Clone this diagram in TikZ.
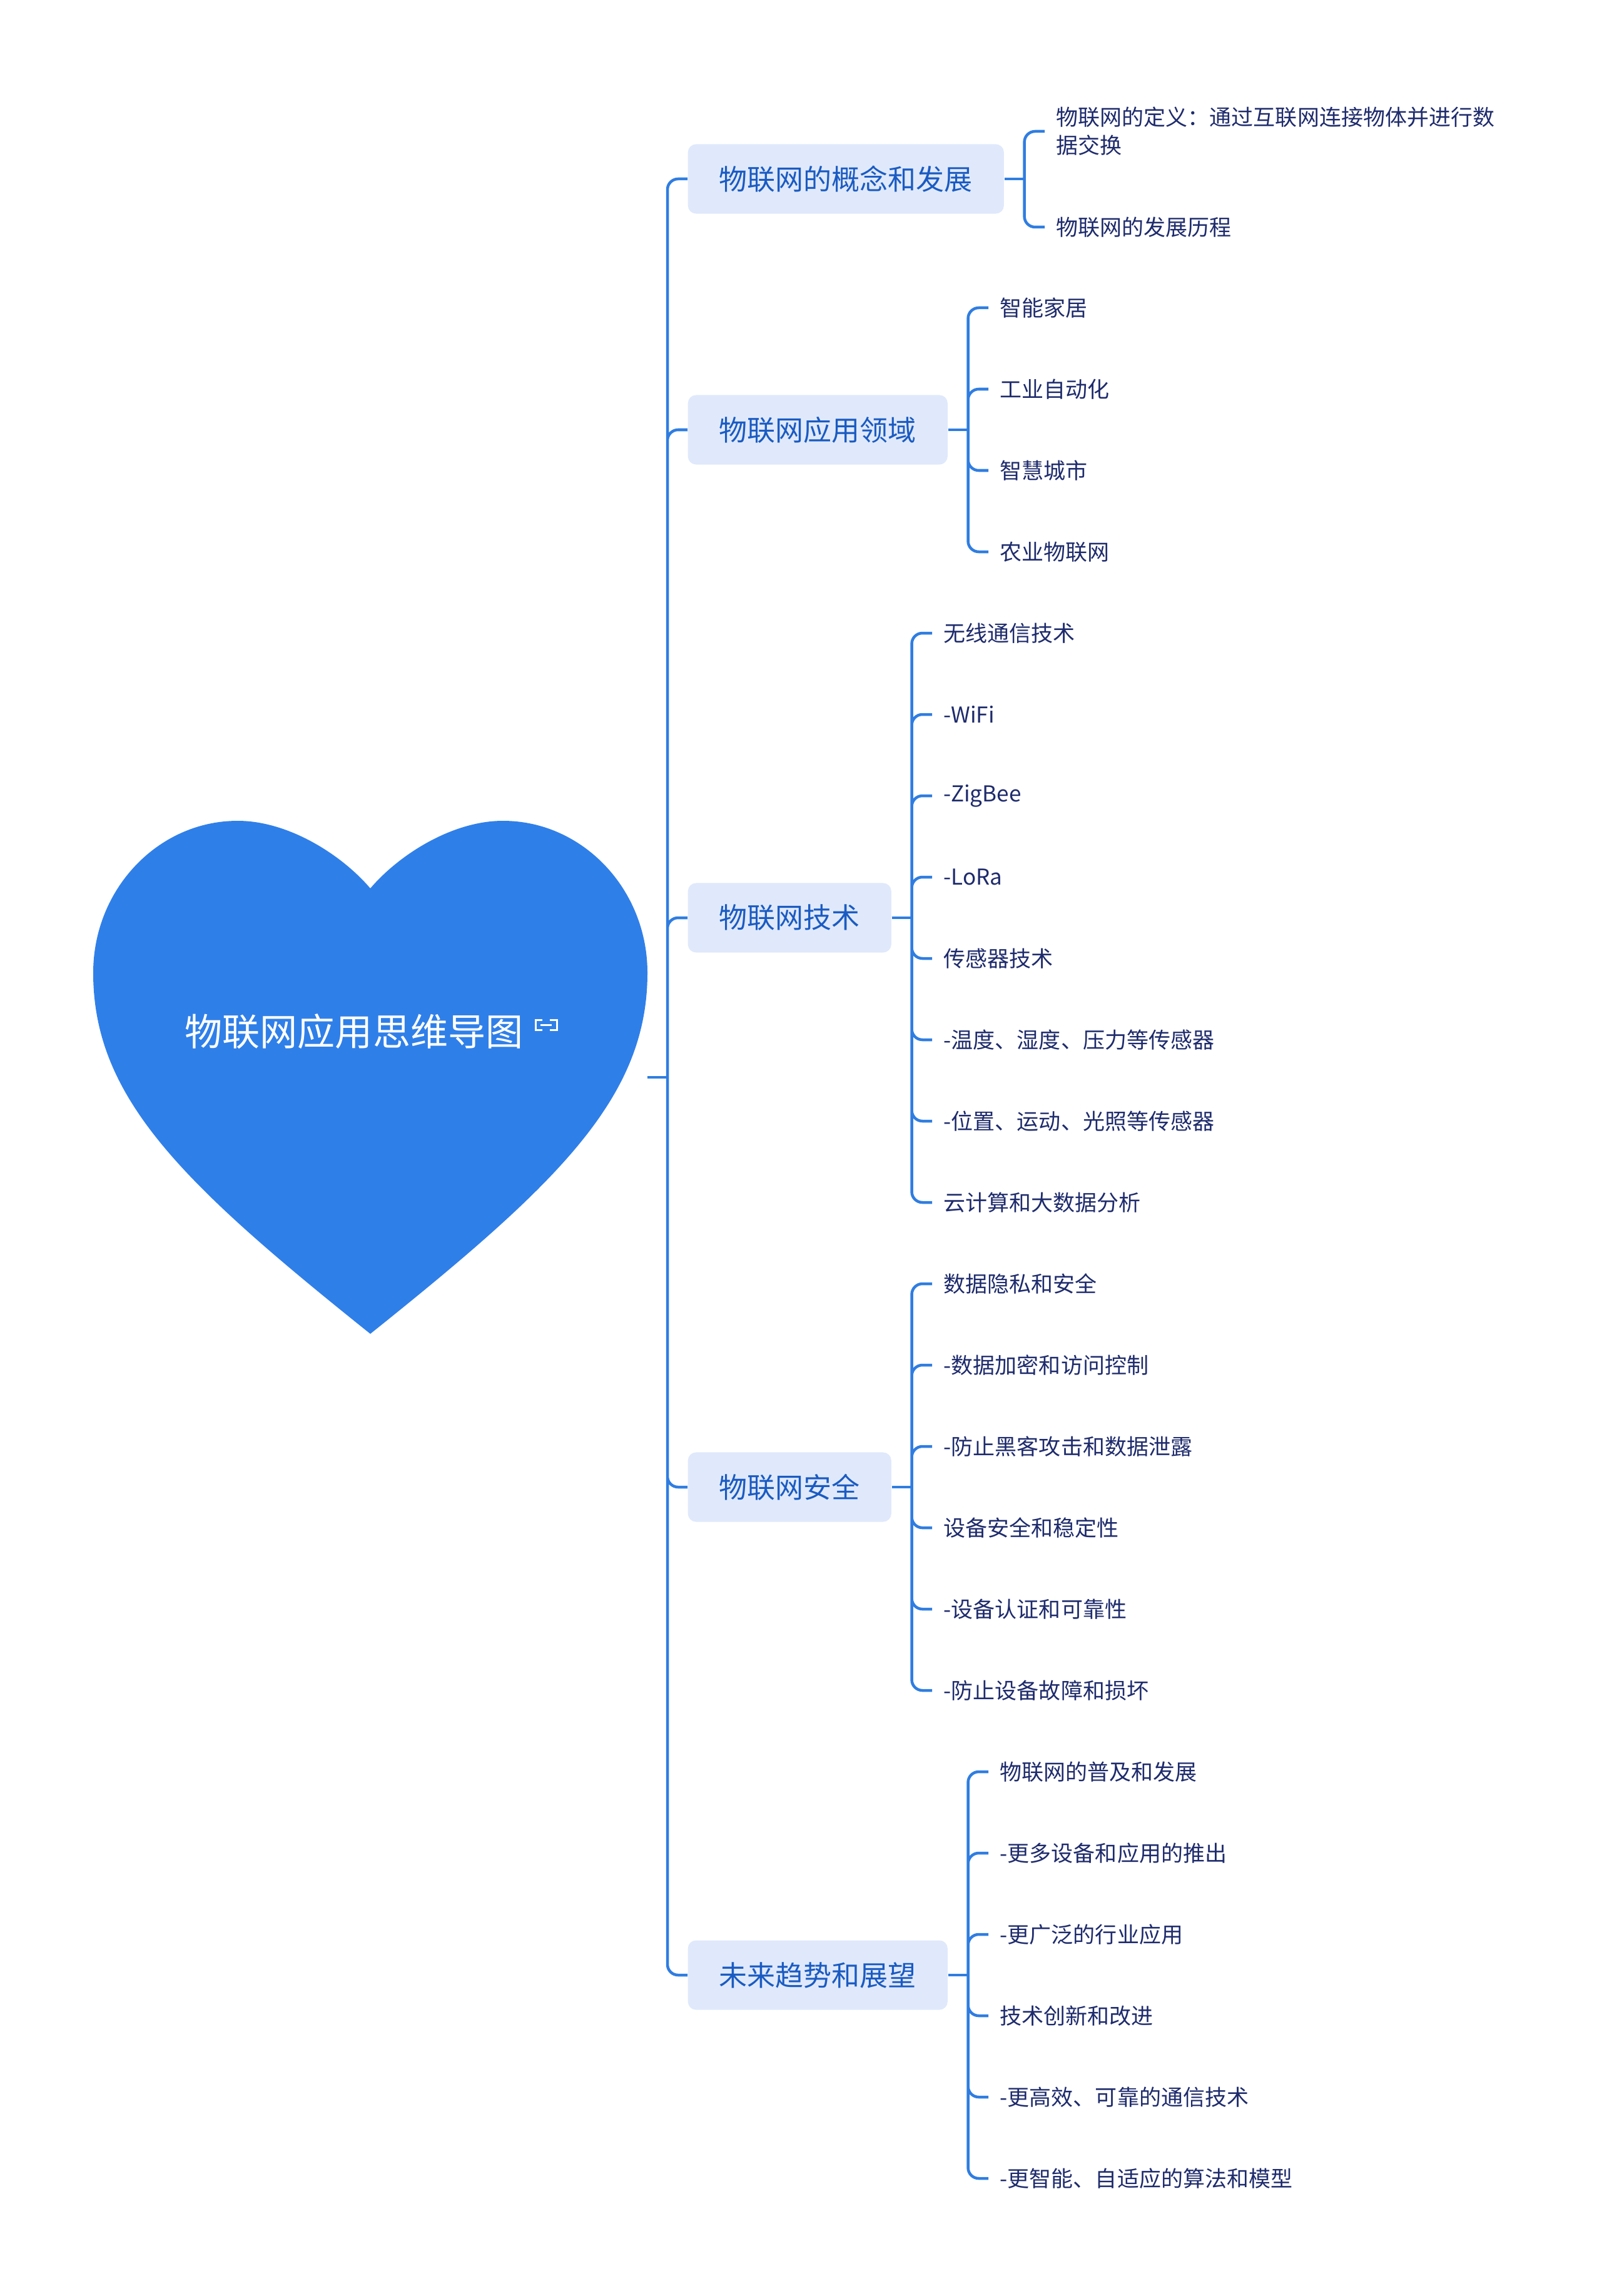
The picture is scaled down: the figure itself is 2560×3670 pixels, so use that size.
\documentclass[tikz,border=0pt]{standalone}
\usepackage{fontspec}
\setmainfont{Noto Sans CJK SC}
\usepackage{xcolor}
\usetikzlibrary{positioning}

\definecolor{heartblue}{HTML}{2F7FE9}
\definecolor{linkblue}{HTML}{2F7DE1}
\definecolor{boxfill}{HTML}{E0E9FB}
\definecolor{branchtext}{HTML}{1A5BC2}
\definecolor{leaftext}{HTML}{1E2B6C}

\begin{document}
\begin{tikzpicture}[
    x=0.01cm, y=-0.01cm,
    title/.style={text=white, inner sep=0, font=\fontsize{17.07pt}{20pt}\selectfont},
    branch/.style={fill=boxfill, text=branchtext, rounded corners=0.13cm, anchor=west, minimum height=1.11cm, inner xsep=0.5cm, font=\fontsize{12.8pt}{15pt}\selectfont},
    leaf/.style={anchor=west, text=leaftext, inner xsep=0.18cm, inner ysep=0pt, align=left, font=\fontsize{9.96pt}{12.8pt}\selectfont},
    link/.style={draw=linkblue, line width=0.045cm, rounded corners=0.17cm},
    iconline/.style={draw=white, line width=0.03cm}
]
    \useasboundingbox (0,0) rectangle (2560,3670);

    % central topic: the heart
    \fill[heartblue] (592,1420) .. controls (545,1365) and (460,1312) .. (380,1312)
        .. controls (253,1312) and (149,1421) .. (149,1555)
        .. controls (149,1755) and (292,1892) .. (592,2132)
        .. controls (892,1892) and (1035,1755) .. (1035,1555)
        .. controls (1035,1421) and (931,1312) .. (804,1312)
        .. controls (724,1312) and (639,1365) .. (592,1420) -- cycle;
    \node[title] (root) at (566,1649) {物联网应用思维导图};
    \draw[iconline, shift={(873,1638)}] (-6,-8) -- (-17,-8) -- (-17,8) -- (-6,8)
        (6,-8) -- (17,-8) -- (17,8) -- (6,8) (-9,0) -- (9,0);
    \coordinate (hroot) at (1035,1722);
    \coordinate (hub) at (1067,1722);

    % main branches
    \node[branch] (concept) at (1099,286) {物联网的概念和发展};
    \node[branch] (apps) at (1099,687) {物联网应用领域};
    \node[branch] (tech) at (1099,1467) {物联网技术};
    \node[branch] (sec) at (1099,2377) {物联网安全};
    \node[branch] (future) at (1099,3157) {未来趋势和展望};

    \coordinate[right=0.32cm of concept] (concepthub);
    \coordinate[right=0.32cm of apps] (appshub);
    \coordinate[right=0.32cm of tech] (techhub);
    \coordinate[right=0.32cm of sec] (sechub);
    \coordinate[right=0.32cm of future] (futurehub);

    % leaves
    \node[leaf] (c1) at (1670,210) {物联网的定义：通过互联网连接物体并进行数\\据交换};
    \node[leaf] (c2) at (1670,363) {物联网的发展历程};

    \node[leaf] (a1) at (1580,492) {智能家居};
    \node[leaf] (a2) at (1580,622) {工业自动化};
    \node[leaf] (a3) at (1580,752) {智慧城市};
    \node[leaf] (a4) at (1580,882) {农业物联网};

    \node[leaf] (t1) at (1490,1012) {无线通信技术};
    \node[leaf] (t2) at (1490,1142) {-WiFi};
    \node[leaf] (t3) at (1490,1272) {-ZigBee};
    \node[leaf] (t4) at (1490,1402) {-LoRa};
    \node[leaf] (t5) at (1490,1532) {传感器技术};
    \node[leaf] (t6) at (1490,1662) {-温度、湿度、压力等传感器};
    \node[leaf] (t7) at (1490,1792) {-位置、运动、光照等传感器};
    \node[leaf] (t8) at (1490,1922) {云计算和大数据分析};

    \node[leaf] (s1) at (1490,2052) {数据隐私和安全};
    \node[leaf] (s2) at (1490,2182) {-数据加密和访问控制};
    \node[leaf] (s3) at (1490,2312) {-防止黑客攻击和数据泄露};
    \node[leaf] (s4) at (1490,2442) {设备安全和稳定性};
    \node[leaf] (s5) at (1490,2572) {-设备认证和可靠性};
    \node[leaf] (s6) at (1490,2702) {-防止设备故障和损坏};

    \node[leaf] (f1) at (1580,2832) {物联网的普及和发展};
    \node[leaf] (f2) at (1580,2962) {-更多设备和应用的推出};
    \node[leaf] (f3) at (1580,3092) {-更广泛的行业应用};
    \node[leaf] (f4) at (1580,3222) {技术创新和改进};
    \node[leaf] (f5) at (1580,3352) {-更高效、可靠的通信技术};
    \node[leaf] (f6) at (1580,3482) {-更智能、自适应的算法和模型};

    % connectors
    \draw[link] (hroot) -- (hub);
    \draw[link] (hub) |- (concept.west) (hub) |- (apps.west) (hub) |- (tech.west)
        (hub) |- (sec.west) (hub) |- (future.west);

    \draw[link] (concept.east) -- (concepthub);
    \draw[link] (concepthub) |- (c1.west) (concepthub) |- (c2.west);

    \draw[link] (apps.east) -- (appshub);
    \draw[link] (appshub) |- (a1.west) (appshub) |- (a2.west) (appshub) |- (a3.west)
        (appshub) |- (a4.west);

    \draw[link] (tech.east) -- (techhub);
    \draw[link] (techhub) |- (t1.west) (techhub) |- (t2.west) (techhub) |- (t3.west)
        (techhub) |- (t4.west) (techhub) |- (t5.west) (techhub) |- (t6.west)
        (techhub) |- (t7.west) (techhub) |- (t8.west);

    \draw[link] (sec.east) -- (sechub);
    \draw[link] (sechub) |- (s1.west) (sechub) |- (s2.west) (sechub) |- (s3.west)
        (sechub) |- (s4.west) (sechub) |- (s5.west) (sechub) |- (s6.west);

    \draw[link] (future.east) -- (futurehub);
    \draw[link] (futurehub) |- (f1.west) (futurehub) |- (f2.west) (futurehub) |- (f3.west)
        (futurehub) |- (f4.west) (futurehub) |- (f5.west) (futurehub) |- (f6.west);
\end{tikzpicture}
\end{document}
